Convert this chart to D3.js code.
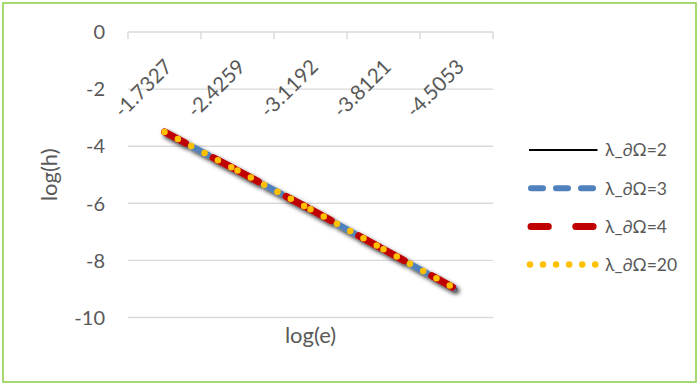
<!DOCTYPE html>
<html>
<head>
<meta charset="utf-8">
<script src="https://cdn.jsdelivr.net/npm/d3@7"></script>
<style>
  html, body { margin: 0; padding: 0; background: #ffffff; }
  svg { display: block; }
  text { font-family: Lato, "Noto Sans", "DejaVu Sans", sans-serif; fill: #595959; }
</style>
</head>
<body>
<svg id="chart" width="699" height="385"></svg>
<script>
// log(e) categories (shown along the top axis)
const categories = ["-1.7327", "-2.4259", "-3.1192", "-3.8121", "-4.5053"];

// log(h) for each boundary parameter
const seriesNames = ["λ_∂Ω=2", "λ_∂Ω=3", "λ_∂Ω=4", "λ_∂Ω=20"];
const lambda2  = [-3.50, -4.85, -6.21, -7.61, -9.01];
const lambda3  = [-3.50, -4.85, -6.21, -7.61, -9.01];
const lambda4  = [-3.50, -4.85, -6.21, -7.61, -9.01];
const lambda20 = [-3.50, -4.85, -6.21, -7.61, -9.01];

const yTicks = [0, -2, -4, -6, -8, -10];

const xTitle = "log(e)";
const yTitle = "log(h)";

const seriesData = [lambda2, lambda3, lambda4, lambda20];

// Line styles: plot dashes restart at every vertex (one path per segment)
const styles = [
  { color: "#000000", width: 2,   dash: null,         legendDash: null,          cap: "butt"  },
  { color: "#4F81BD", width: 6,   dash: "20 10",      legendDash: "12 13",       cap: "round" },
  { color: "#C00000", width: 7,   dash: "23.7 31.3",  legendDash: "17.3 27.5",   cap: "round" },
  { color: "#FFC000", width: 6.5, dash: "0 15.1",     legendDash: "0 13.05",     cap: "round" }
];

const svg = d3.select("#chart");
const W = 699, H = 385;

svg.append("rect").attr("width", W).attr("height", H).attr("fill", "#ffffff");

// Outer chart border
svg.append("rect")
  .attr("x", 3).attr("y", 3)
  .attr("width", 693).attr("height", 379)
  .attr("fill", "none")
  .attr("stroke", "#92D050")
  .attr("stroke-width", 1.6);

const plot = { left: 128, right: 493, top: 32, bottom: 317.5 };

const x = d3.scaleBand().domain(categories).range([plot.left, plot.right]).padding(0);
const y = d3.scaleLinear().domain([0, -10]).range([plot.top, plot.bottom]);
const cx = c => x(c) + x.bandwidth() / 2;

// Horizontal gridlines
svg.append("g").selectAll("line")
  .data(yTicks)
  .join("line")
  .attr("x1", plot.left).attr("x2", plot.right)
  .attr("y1", d => y(d)).attr("y2", d => y(d))
  .attr("stroke", "#D9D9D9")
  .attr("stroke-width", 1.4);

// Y tick labels
svg.append("g").selectAll("text")
  .data(yTicks)
  .join("text")
  .attr("x", 105)
  .attr("y", d => y(d))
  .attr("dy", "0.36em")
  .attr("text-anchor", "end")
  .style("font-size", "20px")
  .text(d => String(d));

// Category axis along the zero line, tick marks between categories
const tickPos = categories.map(c => x(c)).concat([x.range()[1]]);
svg.append("g").selectAll("line")
  .data(tickPos)
  .join("line")
  .attr("x1", d => d).attr("x2", d => d)
  .attr("y1", y(0)).attr("y2", y(0) + 7)
  .attr("stroke", "#D9D9D9")
  .attr("stroke-width", 1.4);

svg.append("g").selectAll("text")
  .data(categories)
  .join("text")
  .attr("transform", d => `translate(${cx(d) + 9},68) rotate(-45)`)
  .attr("text-anchor", "end")
  .style("font-size", "20.5px")
  .text(d => d);

// Axis titles
svg.append("text")
  .attr("x", (plot.left + plot.right) / 2)
  .attr("y", 343)
  .attr("text-anchor", "middle")
  .style("font-size", "22px")
  .text(xTitle);

svg.append("text")
  .attr("transform", `translate(57,${(plot.top + plot.bottom) / 2}) rotate(-90)`)
  .attr("text-anchor", "middle")
  .style("font-size", "22px")
  .text(yTitle);

// Soft drop shadow under the lines
const defs = svg.append("defs");
const f = defs.append("filter").attr("id", "shadow")
  .attr("x", "-10%").attr("y", "-10%").attr("width", "130%").attr("height", "130%");
f.append("feDropShadow")
  .attr("dx", 2.5).attr("dy", 3)
  .attr("stdDeviation", 2.2)
  .attr("flood-color", "#000000")
  .attr("flood-opacity", 0.8);

const line = d3.line().x(d => cx(d.c)).y(d => y(d.v));

const shadowed = svg.append("g").attr("filter", "url(#shadow)");
const topLayer = svg.append("g");

seriesData.forEach((vals, si) => {
  const st = styles[si];
  const pts = vals.map((v, i) => ({ c: categories[i], v }));
  const segs = d3.pairs(pts);
  const parent = si === 3 ? topLayer : shadowed;
  parent.append("g").selectAll("path")
    .data(segs)
    .join("path")
    .attr("d", d => line(d))
    .attr("fill", "none")
    .attr("stroke", st.color)
    .attr("stroke-width", st.width)
    .attr("stroke-linecap", st.cap)
    .attr("stroke-dasharray", st.dash);
});

// Legend
const legendY = d3.scaleLinear().domain([0, 3]).range([150, 264.6]);
const legend = svg.append("g");
seriesNames.forEach((name, i) => {
  const st = styles[i];
  const ly = legendY(i);
  const x1 = i === 0 ? 529 : (i === 3 ? 530 : 531);
  const x2 = i === 0 ? 597.5 : (i === 3 ? 595.5 : 594);
  legend.append("line")
    .attr("x1", x1).attr("x2", x2)
    .attr("y1", ly).attr("y2", ly)
    .attr("stroke", st.color)
    .attr("stroke-width", st.width)
    .attr("stroke-linecap", st.cap)
    .attr("stroke-dasharray", st.legendDash);
  legend.append("text")
    .attr("x", 605)
    .attr("y", ly)
    .attr("dy", "0.36em")
    .style("font-size", "17.5px")
    .text(name);
});
</script>
</body>
</html>
